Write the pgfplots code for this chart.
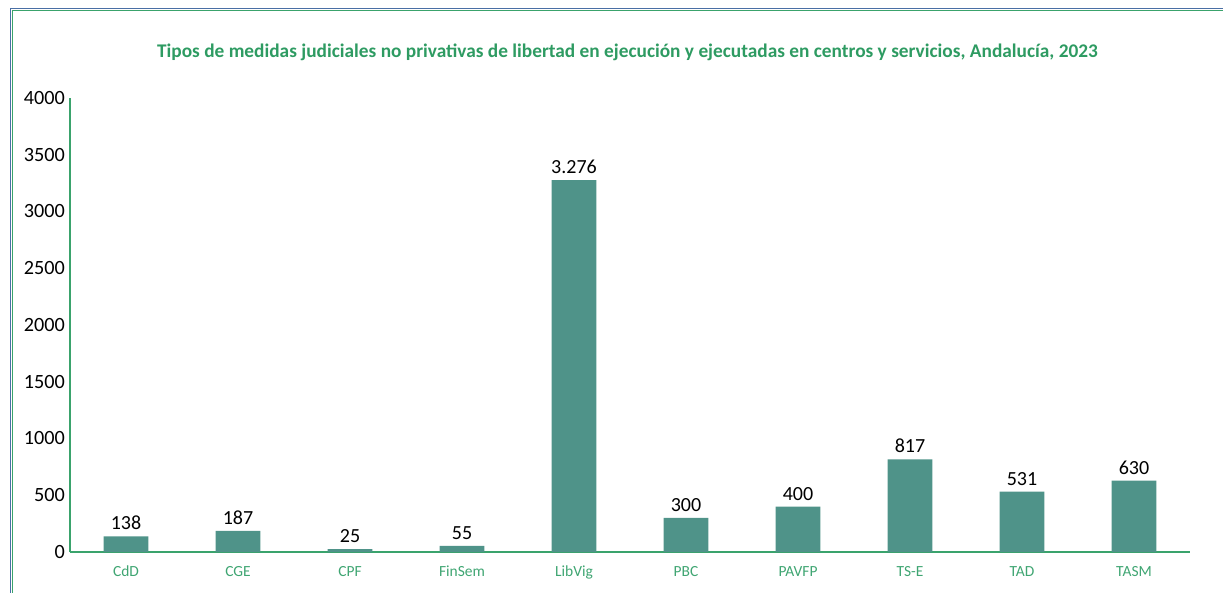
\documentclass[border=0pt]{standalone}
\usepackage{pgfplots}
\pgfplotsset{compat=1.18}
\usepackage{fontspec}
\setmainfont{Carlito}
\definecolor{barteal}{HTML}{4F9389}
\definecolor{titlegreen}{HTML}{2E9B62}
\definecolor{axisgreen}{HTML}{3AA36C}
\definecolor{labgreen}{HTML}{3FA572}
\definecolor{frameblue}{HTML}{4A6FA5}

\begin{document}
\begin{tikzpicture}
% page size: 1223 x 592 px at 0.02 cm per px
\useasboundingbox (0,0) rectangle (24.46cm,-11.84cm);
% frame, partly visible
\draw[frameblue, line width=0.9pt] (0.21cm,-11.9cm) -- (0.21cm,-0.17cm) -- (24.5cm,-0.17cm);
\draw[axisgreen, line width=1.1pt] (0.25cm,-11.9cm) -- (0.25cm,-0.21cm) -- (24.5cm,-0.21cm);
\node[font=\bfseries\fontsize{11}{13}\selectfont, text=titlegreen] at (12.55cm,-1.04cm)
  {Tipos de medidas judiciales no privativas de libertad en ejecución y ejecutadas en centros y servicios, Andalucía, 2023};
\begin{axis}[
    at={(1.4cm,-11.04cm)}, anchor=south west,
    scale only axis,
    width=22.4cm, height=9.08cm,
    ybar, bar width=0.894cm,
    xmin=-0.5, xmax=9.5,
    ymin=0, ymax=4000,
    ytick={0,500,...,4000},
    xtick=data,
    xticklabels={CdD,CGE,CPF,FinSem,LibVig,PBC,PAVFP,TS-E,TAD,TASM},
    axis x line*=bottom, axis y line*=left,
    axis line style={axisgreen, line width=0.8pt},
    x axis line style={-}, y axis line style={-},
    major tick length=0pt,
    tick style={draw=none},
    xticklabel style={font=\fontsize{8.8}{10}\selectfont, text=labgreen, yshift=-0.16cm},
    yticklabel style={font=\fontsize{11.5}{13}\selectfont, text=black, xshift=0.02cm},
    /pgf/number format/assume math mode=true,
    /pgf/number format/1000 sep={},
    scaled y ticks=false,
    nodes near coords,
    nodes near coords style={font=\fontsize{11.4}{13}\selectfont, text=black,
      /pgf/number format/1000 sep={.}},
]
\addplot[fill=barteal, draw=none] coordinates {
  (0,138) (1,187) (2,25) (3,55) (4,3276) (5,300) (6,400) (7,817) (8,531) (9,630)
};
\end{axis}
\end{tikzpicture}
\end{document}
